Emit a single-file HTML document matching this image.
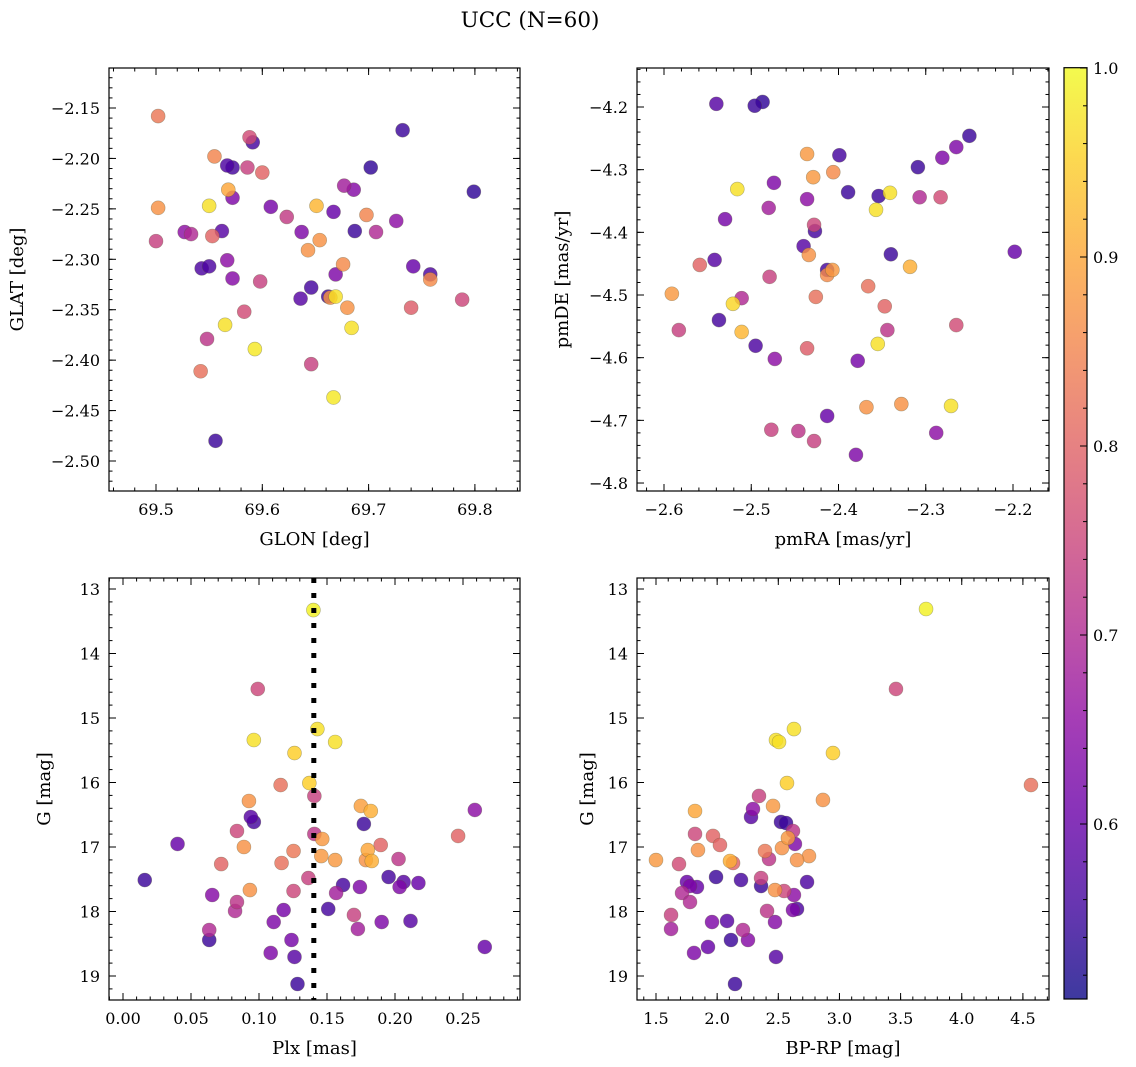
<!DOCTYPE html>
<html><head><meta charset="utf-8"><style>
html,body{margin:0;padding:0;background:#fff;}
svg{display:block;font-family:"DejaVu Serif","Liberation Serif",serif;}
</style></head><body>
<svg id="fig" width="1136" height="1067" viewBox="0 0 1136 1067" xmlns="http://www.w3.org/2000/svg">
<defs>
<linearGradient id="cbgrad" x1="0" y1="1" x2="0" y2="0"></linearGradient>
</defs>
<text x="530" y="27" font-size="21.5" text-anchor="middle">UCC (N=60)</text>
<g id="layer"></g>
</svg>
<script>
// ---- data ----
const glon=[69.502,69.732,69.588,69.591,69.555,69.567,69.572,69.586,69.600,69.702,69.677,69.686,69.799,69.568,69.572,69.502,69.550,69.608,69.651,69.623,69.667,69.698,69.726,69.527,69.533,69.500,69.553,69.562,69.637,69.687,69.707,69.654,69.643,69.543,69.550,69.567,69.572,69.598,69.646,69.636,69.669,69.676,69.742,69.758,69.758,69.664,69.669,69.680,69.788,69.740,69.583,69.565,69.684,69.548,69.593,69.542,69.646,69.667,69.556,69.662];
const glat=[-2.158,-2.172,-2.179,-2.184,-2.198,-2.207,-2.209,-2.209,-2.214,-2.209,-2.227,-2.231,-2.233,-2.231,-2.239,-2.249,-2.247,-2.248,-2.247,-2.258,-2.253,-2.256,-2.262,-2.273,-2.275,-2.282,-2.277,-2.272,-2.273,-2.272,-2.273,-2.281,-2.291,-2.309,-2.307,-2.301,-2.319,-2.322,-2.328,-2.339,-2.315,-2.305,-2.307,-2.315,-2.320,-2.338,-2.337,-2.348,-2.340,-2.348,-2.352,-2.365,-2.368,-2.379,-2.389,-2.411,-2.404,-2.437,-2.480,-2.337];
const probTL=[0.83,0.55,0.76,0.56,0.85,0.57,0.56,0.74,0.8,0.54,0.68,0.64,0.54,0.9,0.63,0.87,0.97,0.62,0.92,0.73,0.6,0.85,0.65,0.65,0.7,0.74,0.8,0.58,0.63,0.55,0.7,0.87,0.87,0.57,0.57,0.65,0.64,0.74,0.56,0.58,0.63,0.86,0.6,0.57,0.86,0.87,0.97,0.87,0.75,0.79,0.76,0.97,0.97,0.72,0.98,0.82,0.74,0.98,0.55,0.55];

const pmra=[-2.540,-2.496,-2.487,-2.250,-2.265,-2.281,-2.309,-2.436,-2.399,-2.429,-2.406,-2.474,-2.516,-2.436,-2.389,-2.354,-2.341,-2.307,-2.283,-2.480,-2.357,-2.530,-2.428,-2.427,-2.440,-2.434,-2.340,-2.198,-2.542,-2.559,-2.318,-2.413,-2.407,-2.413,-2.479,-2.366,-2.591,-2.426,-2.511,-2.521,-2.347,-2.537,-2.583,-2.511,-2.344,-2.265,-2.495,-2.436,-2.355,-2.473,-2.378,-2.368,-2.328,-2.271,-2.413,-2.477,-2.446,-2.428,-2.288,-2.380];
const pmde=[-4.195,-4.198,-4.192,-4.246,-4.264,-4.281,-4.296,-4.275,-4.277,-4.312,-4.304,-4.321,-4.331,-4.347,-4.336,-4.342,-4.337,-4.344,-4.344,-4.361,-4.364,-4.379,-4.388,-4.398,-4.422,-4.436,-4.435,-4.431,-4.444,-4.452,-4.455,-4.460,-4.460,-4.468,-4.471,-4.486,-4.498,-4.503,-4.505,-4.514,-4.518,-4.540,-4.556,-4.559,-4.556,-4.548,-4.581,-4.585,-4.578,-4.602,-4.605,-4.679,-4.674,-4.677,-4.693,-4.715,-4.717,-4.733,-4.720,-4.755];
const probTR=[0.58,0.55,0.54,0.55,0.63,0.63,0.55,0.88,0.56,0.88,0.86,0.63,0.97,0.65,0.55,0.55,0.97,0.7,0.76,0.68,0.97,0.62,0.75,0.56,0.58,0.87,0.55,0.6,0.58,0.8,0.91,0.56,0.88,0.86,0.74,0.82,0.88,0.82,0.7,0.96,0.8,0.56,0.74,0.92,0.72,0.76,0.57,0.79,0.97,0.65,0.62,0.87,0.87,0.97,0.6,0.74,0.72,0.74,0.65,0.63];

const plx=[0.140,0.0991,0.1429,0.0962,0.156,0.1261,0.1159,0.137,0.1407,0.0926,0.1749,0.1822,0.2587,0.094,0.0962,0.1771,0.0838,0.0401,0.1407,0.1465,0.2464,0.0889,0.1254,0.1895,0.18,0.1458,0.156,0.1786,0.1829,0.2026,0.0722,0.1166,0.016,0.1363,0.1953,0.2063,0.2172,0.2034,0.1618,0.1742,0.1567,0.0933,0.1254,0.0656,0.0838,0.0824,0.1181,0.1509,0.1698,0.1108,0.1902,0.2114,0.1727,0.0634,0.0634,0.1239,0.266,0.1086,0.1261,0.1283];
const gmagL=[13.326,14.550,15.171,15.341,15.372,15.543,16.039,16.008,16.209,16.287,16.364,16.442,16.426,16.535,16.612,16.643,16.752,16.953,16.798,16.876,16.829,17.0,17.062,16.969,17.047,17.140,17.202,17.202,17.217,17.186,17.264,17.248,17.512,17.481,17.465,17.543,17.558,17.620,17.589,17.620,17.713,17.667,17.682,17.744,17.853,17.992,17.977,17.961,18.054,18.163,18.163,18.147,18.271,18.287,18.442,18.442,18.550,18.643,18.705,19.124];
const probBL=[0.99,0.75,0.97,0.97,0.97,0.95,0.82,0.95,0.74,0.87,0.89,0.91,0.65,0.58,0.56,0.55,0.75,0.6,0.72,0.88,0.8,0.87,0.83,0.8,0.9,0.88,0.88,0.87,0.91,0.72,0.8,0.82,0.55,0.74,0.56,0.58,0.6,0.63,0.56,0.63,0.68,0.87,0.75,0.64,0.72,0.7,0.62,0.56,0.74,0.63,0.63,0.58,0.68,0.7,0.55,0.62,0.6,0.63,0.58,0.55];

const bprp=[3.708,3.462,2.628,2.481,2.506,2.947,4.566,2.571,2.342,2.865,1.819,2.457,2.293,2.277,2.522,2.563,1.819,2.620,1.966,2.579,2.636,2.023,1.843,2.391,2.530,2.751,1.500,2.424,2.653,2.105,2.130,1.688,1.991,2.195,2.735,1.753,1.778,1.835,2.359,2.359,2.473,2.547,1.713,2.628,1.778,2.408,2.653,2.620,1.623,1.958,2.081,2.473,1.623,2.211,2.113,2.252,1.925,1.811,2.481,2.146];
const gmagR=[13.310,14.550,15.171,15.341,15.372,15.543,16.039,16.008,16.209,16.271,16.442,16.364,16.411,16.535,16.612,16.628,16.798,16.752,16.829,16.860,16.953,16.969,17.047,17.062,17.016,17.140,17.202,17.186,17.202,17.217,17.248,17.264,17.465,17.512,17.543,17.543,17.605,17.620,17.481,17.605,17.667,17.682,17.713,17.744,17.853,17.992,17.961,17.977,18.054,18.163,18.147,18.163,18.271,18.287,18.442,18.442,18.550,18.643,18.705,19.124];
const probBR=[0.99,0.75,0.97,0.97,0.97,0.95,0.82,0.95,0.74,0.87,0.9,0.88,0.65,0.58,0.55,0.55,0.75,0.72,0.8,0.88,0.63,0.8,0.87,0.83,0.87,0.87,0.88,0.72,0.87,0.91,0.8,0.76,0.55,0.56,0.57,0.6,0.63,0.6,0.74,0.55,0.87,0.75,0.7,0.65,0.7,0.72,0.57,0.63,0.74,0.63,0.58,0.64,0.68,0.7,0.55,0.64,0.6,0.63,0.58,0.55];

const plxLine=[0.1403];
const ticksTLx=[69.5,69.6,69.7,69.8];
const ticksTLy=[-2.15,-2.20,-2.25,-2.30,-2.35,-2.40,-2.45,-2.50];
const ticksTRx=[-2.6,-2.5,-2.4,-2.3,-2.2];
const ticksTRy=[-4.2,-4.3,-4.4,-4.5,-4.6,-4.7,-4.8];
const ticksBLx=[0,0.05,0.10,0.15,0.20,0.25];
const ticksGy=[13,14,15,16,17,18,19];
const ticksBRx=[1.5,2.0,2.5,3.0,3.5,4.0,4.5];
const ticksCb=[0.6,0.7,0.8,0.9,1.0];

// ---- rendering ----
const NS="http://www.w3.org/2000/svg";
const layer=document.getElementById('layer');
function mk(tag,attrs,parent){const e=document.createElementNS(NS,tag);for(const k in attrs)e.setAttribute(k,attrs[k]);(parent||layer).appendChild(e);return e;}
const VMIN=0.507,VMAX=1.0;
const plasma=[[13,8,135],[65,4,157],[106,0,168],[143,13,164],[177,42,144],[204,71,120],[225,100,98],[242,132,75],[252,166,54],[252,206,37],[240,249,33]];
function cmap(v){let t=(v-VMIN)/(VMAX-VMIN);t=Math.max(0,Math.min(1,t));const f=t*10,i=Math.min(9,Math.floor(f)),r=f-i;const a=plasma[i],b=plasma[i+1];
 return 'rgb('+[0,1,2].map(k=>Math.round(a[k]+(b[k]-a[k])*r)).join(',')+')';}
function fmt(v,d){const s=Math.abs(v).toFixed(d);return (v<0?'\u2212':'')+s;}

function panel(p){
 const g=mk('g',{});
 
 
 const X=p.X,Y=p.Y;
 const idx=p.xs.map((_,i)=>i).sort((a,b)=>p.pr[a]-p.pr[b]);
 const pg=mk('g',{},g);
 
 
 idx.forEach(i=>{
  const c=mk('circle',{cx:X(p.xs[i]),cy:Y(p.ys[i]),r:7,fill:cmap(p.pr[i]),'fill-opacity':0.82,stroke:'rgba(90,90,60,0.45)','stroke-width':0.6},pg);
  
  
 });
 if(p.vline){p.vline.forEach(v=>{const l=mk('line',{x1:X(v),x2:X(v),y1:p.y0,y2:p.y1,stroke:'#000','stroke-width':5,'stroke-dasharray':'5,10'},g);
  
  });}
 const fr=mk('rect',{x:p.x0,y:p.y0,width:p.x1-p.x0,height:p.y1-p.y0,fill:'none',stroke:'#000','stroke-width':1.2},g);
 
 
 const tg=mk('g',{stroke:'#000','stroke-width':1},g);
 
 
 for(let k=Math.ceil(p.xmin/p.xm-1e-6);k*p.xm<=p.xmax+1e-9;k++){const px=X(k*p.xm);if(px<p.x0||px>p.x1)continue;
  mk('line',{x1:px,x2:px,y1:p.y1,y2:p.y1-3.5},tg);mk('line',{x1:px,x2:px,y1:p.y0,y2:p.y0+3.5},tg);}
 for(let k=Math.ceil(p.ymin/p.ym-1e-6);k*p.ym<=p.ymax+1e-9;k++){const py=Y(k*p.ym);if(py<p.y0||py>p.y1)continue;
  mk('line',{x1:p.x0,x2:p.x0+3.5,y1:py,y2:py},tg);mk('line',{x1:p.x1,x2:p.x1-3.5,y1:py,y2:py},tg);}
 p.xt.forEach(v=>{const px=X(v);mk('line',{x1:px,x2:px,y1:p.y1,y2:p.y1-7},tg);mk('line',{x1:px,x2:px,y1:p.y0,y2:p.y0+7},tg);
  const t=mk('text',{x:px,y:p.y1+24,'font-size':16,'text-anchor':'middle'},g);t.textContent=fmt(v,p.xd);
  
  });
 p.yt.forEach(v=>{const py=Y(v);mk('line',{x1:p.x0,x2:p.x0+7,y1:py,y2:py},tg);mk('line',{x1:p.x1,x2:p.x1-7,y1:py,y2:py},tg);
  const t=mk('text',{x:p.x0-9,y:py+6,'font-size':16,'text-anchor':'end'},g);t.textContent=fmt(v,p.yd);
  
  });
 const xl=mk('text',{x:(p.x0+p.x1)/2,y:p.y1+54,'font-size':18,'text-anchor':'middle'},g);xl.textContent=p.xlab;
 
 
 const yl=mk('text',{x:0,y:0,'font-size':18,'text-anchor':'middle',transform:'translate('+(p.ylx+6)+','+((p.y0+p.y1)/2)+') rotate(-90)'},g);yl.textContent=p.ylab;
 
 
}

const Yg=v=>589+(v-13)*64.5;
panel({name:'glon-glat-panel',x0:109,x1:520,y0:68,y1:491,X:v=>156+(v-69.5)*1063,Y:v=>108+(-2.15-v)*1008.6,
 xs:glon,ys:glat,pr:probTL,xt:ticksTLx,yt:ticksTLy,xd:1,yd:2,xm:0.02,ym:0.01,xmin:69.44,xmax:69.86,ymin:-2.54,ymax:-2.10,xlab:'GLON [deg]',ylab:'GLAT [deg]',ylx:17});
panel({name:'pm-panel',x0:637,x1:1049,y0:68,y1:491,X:v=>664+(v+2.6)*872.5,Y:v=>107+(-4.2-v)*626.7,
 xs:pmra,ys:pmde,pr:probTR,xt:ticksTRx,yt:ticksTRy,xd:1,yd:1,xm:0.02,ym:0.02,xmin:-2.64,xmax:-2.14,ymin:-4.82,ymax:-4.12,xlab:'pmRA [mas/yr]',ylab:'pmDE [mas/yr]',ylx:562});
panel({name:'plx-g-panel',x0:109,x1:520,y0:578,y1:1000,X:v=>123+v*1360,Y:Yg,
 xs:plx,ys:gmagL,pr:probBL,xt:ticksBLx,yt:ticksGy,xd:2,yd:0,xm:0.01,ym:0.2,xmin:-0.02,xmax:0.30,ymin:12.8,ymax:19.4,xlab:'Plx [mas]',ylab:'G [mag]',ylx:44,vline:plxLine});
panel({name:'cmd-panel',x0:637,x1:1049,y0:578,y1:1000,X:v=>656+(v-1.5)*122.3,Y:Yg,
 xs:bprp,ys:gmagR,pr:probBR,xt:ticksBRx,yt:ticksGy,xd:1,yd:0,xm:0.1,ym:0.2,xmin:1.3,xmax:4.8,ymin:12.8,ymax:19.4,xlab:'BP-RP [mag]',ylab:'G [mag]',ylx:587});

// colorbar
const grad=document.getElementById('cbgrad');
for(let i=0;i<=10;i++){const s=mk('stop',{offset:(i*10)+'%','stop-color':'rgb('+plasma[i].join(',')+')'},grad);}
const CB={x0:1064,x1:1087,y0:67.7,y1:999};
const Ycb=v=>68+(1.0-v)*1890;
const cbg=mk('g',{});


mk('rect',{x:CB.x0,y:CB.y0,width:CB.x1-CB.x0,height:CB.y1-CB.y0,fill:'url(#cbgrad)','fill-opacity':0.8},cbg);
mk('rect',{x:CB.x0,y:CB.y0,width:CB.x1-CB.x0,height:CB.y1-CB.y0,fill:'none',stroke:'#000','stroke-width':1.2},cbg);
for(let k=26;k<=50;k++){const py=Ycb(k*0.02);if(py>CB.y1)continue;mk('line',{x1:CB.x1,x2:CB.x1-4,y1:py,y2:py,stroke:'#000','stroke-width':1},cbg);}
ticksCb.forEach(v=>{const py=Ycb(v);mk('line',{x1:CB.x1,x2:CB.x1-7,y1:py,y2:py,stroke:'#000','stroke-width':1},cbg);
 const t=mk('text',{x:CB.x1+6,y:py+6,'font-size':16},cbg);t.textContent=v.toFixed(1);
 
 });
</script>
</body></html>
